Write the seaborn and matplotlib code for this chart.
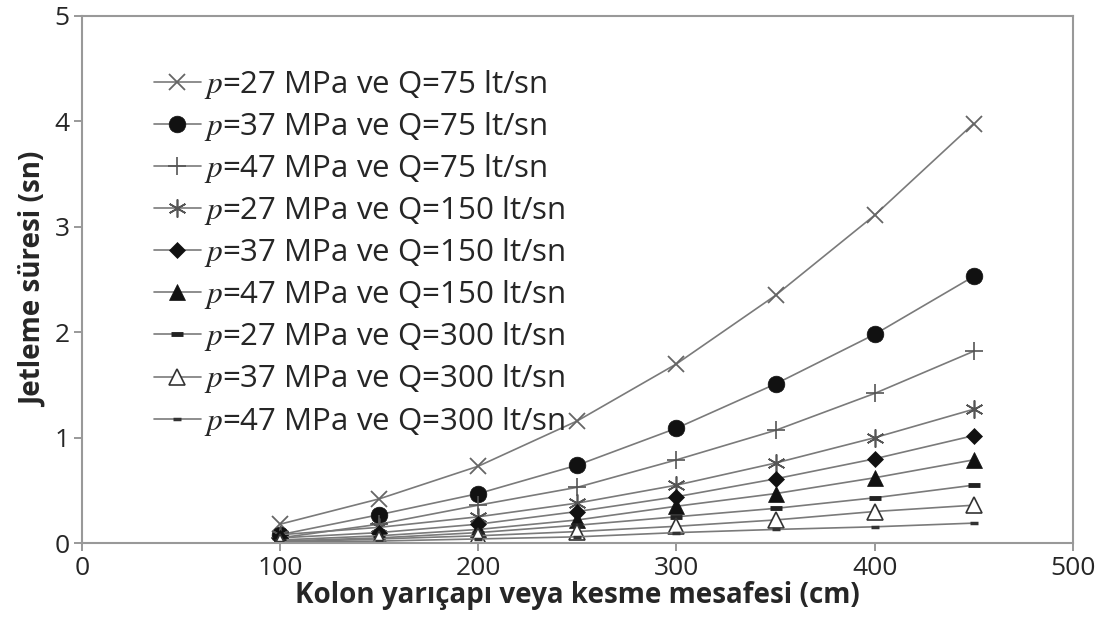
import matplotlib
matplotlib.use("Agg")
import matplotlib.pyplot as plt
import seaborn as sns
import pandas as pd

sns.set_theme(style="white")
plt.rcParams['font.family'] = ['Open Sans', 'DejaVu Sans']
plt.rcParams['mathtext.fontset'] = 'stix'

x_vals = [100, 150, 200, 250, 300, 350, 400, 450]

s_27_75 = [0.18, 0.42, 0.73, 1.16, 1.70, 2.35, 3.11, 3.98]
s_37_75 = [0.08, 0.27, 0.47, 0.74, 1.09, 1.51, 1.98, 2.53]
s_47_75 = [0.05, 0.18, 0.36, 0.53, 0.79, 1.07, 1.42, 1.82]
s_27_150 = [0.08, 0.15, 0.25, 0.38, 0.55, 0.76, 1.00, 1.27]
s_37_150 = [0.05, 0.10, 0.18, 0.30, 0.44, 0.61, 0.80, 1.02]
s_47_150 = [0.03, 0.07, 0.13, 0.22, 0.35, 0.47, 0.62, 0.79]
s_27_300 = [0.02, 0.05, 0.10, 0.17, 0.25, 0.33, 0.43, 0.55]
s_37_300 = [0.01, 0.04, 0.07, 0.11, 0.16, 0.22, 0.30, 0.36]
s_47_300 = [0.01, 0.02, 0.04, 0.06, 0.10, 0.13, 0.155, 0.19]

labels = [
    "$p$=27 MPa ve Q=75 lt/sn",
    "$p$=37 MPa ve Q=75 lt/sn",
    "$p$=47 MPa ve Q=75 lt/sn",
    "$p$=27 MPa ve Q=150 lt/sn",
    "$p$=37 MPa ve Q=150 lt/sn",
    "$p$=47 MPa ve Q=150 lt/sn",
    "$p$=27 MPa ve Q=300 lt/sn",
    "$p$=37 MPa ve Q=300 lt/sn",
    "$p$=47 MPa ve Q=300 lt/sn",
]
series = [s_27_75, s_37_75, s_47_75, s_27_150, s_37_150, s_47_150,
          s_27_300, s_37_300, s_47_300]

x_ticks = [0, 100, 200, 300, 400, 500]
y_ticks = [0, 1, 2, 3, 4, 5]

styles = [
    dict(marker='x', markersize=12, markeredgewidth=1.3, mfc='#666666', mec='#666666'),
    dict(marker='o', markersize=12, markeredgewidth=0.5, mfc='#111111', mec='#111111'),
    dict(marker='+', markersize=13, markeredgewidth=1.2, mfc='#555555', mec='#555555'),
    dict(marker=(6, 2, 0), markersize=13, markeredgewidth=1.2, mfc='#555555', mec='#555555'),
    dict(marker='D', markersize=8, markeredgewidth=0.5, mfc='#111111', mec='#111111'),
    dict(marker='^', markersize=11, markeredgewidth=0.5, mfc='#111111', mec='#111111'),
    dict(marker='_', markersize=9, markeredgewidth=3.5, mfc='#222222', mec='#222222'),
    dict(marker='^', markersize=11, markeredgewidth=1.2, mfc='white', mec='#333333'),
    dict(marker='_', markersize=6, markeredgewidth=2.5, mfc='#333333', mec='#333333'),
]

fig = plt.figure(figsize=(11.14, 6.39), dpi=100)
ax = fig.add_axes([0.0736, 0.150, 0.8894, 0.825])

for lab, ys, st in zip(labels, series, styles):
    df = pd.DataFrame({"x": x_vals, "y": ys})
    sns.lineplot(data=df, x="x", y="y", ax=ax, color='#7a7a7a', linewidth=1.2,
                 label=lab, **st)

ax.set_xlim(0, 500)
ax.set_ylim(0, 5)
ax.set_xticks(x_ticks)
ax.set_yticks(y_ticks)
ax.tick_params(axis='both', direction='out', length=6, width=1.2, color='#888888',
               labelsize=19, bottom=True, left=True, pad=3)
for sp in ax.spines.values():
    sp.set_color('#999999')
    sp.set_linewidth(1.5)

ax.set_xlabel("Kolon yarıçapı veya kesme mesafesi (cm)", fontsize=20, fontweight='bold', labelpad=0)
ax.set_ylabel("Jetleme süresi (sn)", fontsize=20, fontweight='bold', labelpad=4)

leg = ax.legend(loc='upper left', bbox_to_anchor=(0.06, 0.925), frameon=False,
                fontsize=22.5, labelspacing=0.29, handlelength=1.5, handletextpad=0.1,
                borderaxespad=0)

fig.savefig("out.png", dpi=100)
